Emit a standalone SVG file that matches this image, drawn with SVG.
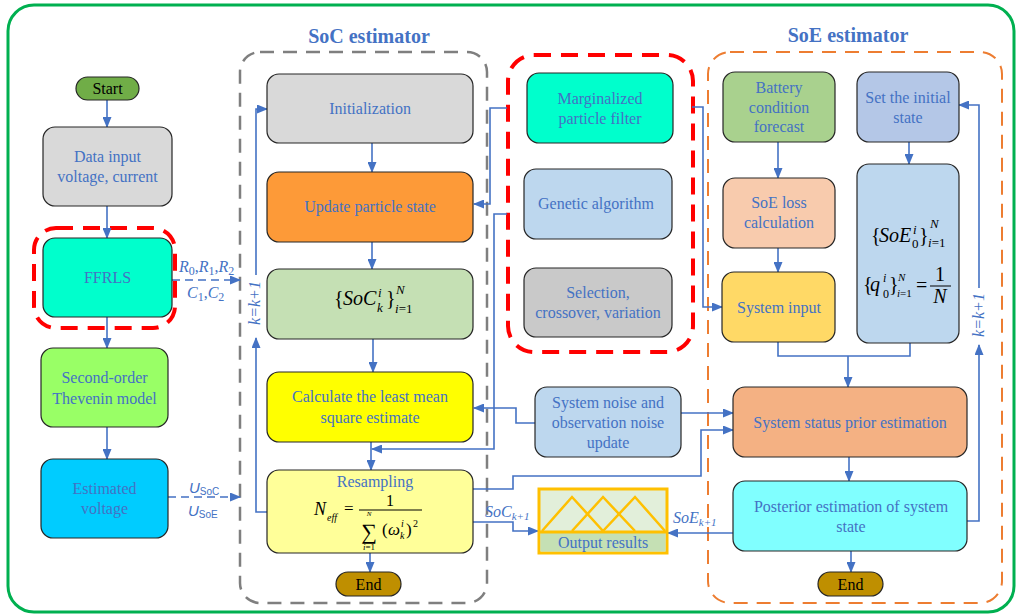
<svg xmlns="http://www.w3.org/2000/svg" width="1016" height="615" viewBox="0 0 1016 615">
<defs>
<marker id="ah" markerUnits="userSpaceOnUse" markerWidth="11" markerHeight="9" refX="10" refY="4.5" orient="auto">
<path d="M0,0 L11,4.5 L0,9 z" fill="#4472c4"/>
</marker>
<style>
.box{stroke:#262626;stroke-width:1.2}
.t{font-family:"Liberation Serif","Times New Roman",serif;font-size:16px;fill:#4472c4;text-anchor:middle}
.k{font-family:"Liberation Serif","Times New Roman",serif;font-size:16px;fill:#000;text-anchor:middle}
.m{font-family:"Liberation Serif","Times New Roman",serif;fill:#000}
.ti{font-family:"Liberation Serif","Times New Roman",serif;font-size:20px;font-weight:bold;fill:#4472c4;text-anchor:middle}
.lbl{font-family:"Liberation Serif","Times New Roman",serif;font-size:16px;fill:#4472c4;font-style:italic}
.c{fill:none;stroke:#4472c4;stroke-width:1.6}
.c path{marker-end:url(#ah)}
.d{stroke-dasharray:8 5}
</style>
</defs>
<rect x="0" y="0" width="1016" height="615" fill="#fff"/>
<rect x="8" y="5" width="1006" height="607" rx="26" fill="none" stroke="#00b050" stroke-width="3"/>

<!-- containers -->
<g id="soc-estimator">
<rect x="240" y="52" width="247" height="551" rx="20" fill="none" stroke="#7f7f7f" stroke-width="2.5" stroke-dasharray="14 9"/>
<text class="ti" x="369" y="43">SoC estimator</text>
</g>
<g id="soe-estimator">
<rect x="708" y="52" width="294" height="551" rx="22" fill="none" stroke="#ed7d31" stroke-width="2" stroke-dasharray="14 9"/>
<text class="ti" x="848" y="42">SoE estimator</text>
</g>
<g id="mpf-group">
<rect x="508" y="55" width="185" height="297" rx="26" fill="none" stroke="#ff0000" stroke-width="4" stroke-dasharray="17 10"/>
</g>
<g id="ffrls-group">
<rect x="34" y="228" width="141" height="100" rx="22" fill="none" stroke="#ff0000" stroke-width="4" stroke-dasharray="17 10"/>
</g>

<!-- connectors -->
<g id="connectors" class="c">
<path d="M107,100 V127"/>
<path d="M107,206 V238"/>
<path d="M107,317 V348"/>
<path d="M107,427 V459"/>
<path class="d" d="M172,280 H240"/>
<path class="d" d="M168,497 H240"/>
<path d="M372,143 V172"/>
<path d="M372,242 V269"/>
<path d="M373,339 V372"/>
<path d="M371,442 V470"/>
<path d="M507,108 H490 V204 H474"/>
<path d="M507,214 H494 V449 H372"/>
<path d="M535,423 H516 V408 H474"/>
<path d="M681,413 H733"/>
<path d="M473,489 H513 V476 H701 V430 H733"/>
<path d="M473,522 H513 V531 H538"/>
<path d="M734,533 H668"/>
<path d="M692,107 H703 V307 H722"/>
<path d="M778,142 V178"/>
<path d="M778,248 V272"/>
<path d="M909,142 V164"/>
<polyline points="778,342 778,356 910,356 910,343"/>
<path d="M848,356 V387"/>
<path d="M849,457 V481"/>
<path d="M851,551 V572"/>
<path d="M370,553 V572"/>
<path d="M967,521 H979 V345"/>
<path d="M979,288 V105 H959"/>
<path d="M267,512 H256 V338"/>
<path d="M256,275 V109 H267"/>
</g>

<!-- connector labels -->
<g id="connector-labels">
<text class="lbl" x="179" y="272" font-size="17">R<tspan font-style="normal" font-size="12" dy="3">0</tspan><tspan font-style="normal" dy="-3">,</tspan>R<tspan font-style="normal" font-size="12" dy="3">1</tspan><tspan font-style="normal" dy="-3">,</tspan>R<tspan font-style="normal" font-size="12" dy="3">2</tspan></text>
<text class="lbl" x="187" y="298" font-size="17">C<tspan font-style="normal" font-size="12" dy="3">1</tspan><tspan font-style="normal" dy="-3">,</tspan>C<tspan font-style="normal" font-size="12" dy="3">2</tspan></text>
<text x="189" y="493" font-family="'Liberation Sans',Arial,sans-serif" font-size="15" fill="#4472c4" font-style="italic">U<tspan font-style="normal" font-size="10" dy="2">SoC</tspan></text>
<text x="188" y="516" font-family="'Liberation Sans',Arial,sans-serif" font-size="15" fill="#4472c4" font-style="italic">U<tspan font-style="normal" font-size="10" dy="2">SoE</tspan></text>
<text class="lbl" x="260" y="303" text-anchor="middle" transform="rotate(-90 260 303)">k=k+1</text>
<text class="lbl" x="984" y="315" text-anchor="middle" transform="rotate(-90 984 315)">k=k+1</text>
<text class="lbl" x="485" y="517">SoC<tspan font-size="11" dy="3">k+1</tspan></text>
<text class="lbl" x="673" y="523">SoE<tspan font-size="11" dy="3">k+1</tspan></text>
</g>

<!-- left column -->
<g id="start">
<rect x="76" y="77" width="63" height="23" rx="11.5" fill="#70ad47" class="box"/>
<text class="k" x="107.5" y="94">Start</text>
</g>
<g id="data-input">
<rect x="43" y="127" width="129" height="79" rx="12" fill="#d9d9d9" class="box"/>
<text class="t" x="107.5" y="162">Data input</text>
<text class="t" x="107.5" y="182">voltage, current</text>
</g>
<g id="ffrls">
<rect x="43" y="238" width="129" height="79" rx="12" fill="#00ffcc" class="box"/>
<text class="t" x="107.5" y="283">FFRLS</text>
</g>
<g id="thevenin">
<rect x="41" y="348" width="127" height="79" rx="12" fill="#99ff66" class="box"/>
<text class="t" x="104.5" y="383">Second-order</text>
<text class="t" x="104.5" y="404">Thevenin model</text>
</g>
<g id="estimated-voltage">
<rect x="41" y="459" width="127" height="79" rx="12" fill="#00ccff" class="box"/>
<text class="t" x="104.5" y="494">Estimated</text>
<text class="t" x="104.5" y="514">voltage</text>
</g>

<!-- SoC column -->
<g id="initialization">
<rect x="267" y="74" width="206" height="69" rx="12" fill="#d9d9d9" class="box"/>
<text class="t" x="370" y="114">Initialization</text>
</g>
<g id="update-particle">
<rect x="267" y="172" width="206" height="70" rx="12" fill="#fd9a38" class="box"/>
<text class="t" x="370" y="212">Update particle state</text>
</g>
<g id="soc-particles">
<rect x="267" y="269" width="206" height="70" rx="12" fill="#c5e0b4" class="box"/>
<text class="m" x="334" y="305" font-size="20">{</text>
<text class="m" x="343" y="305" font-size="20" font-style="italic">SoC</text>
<text class="m" x="378" y="297" font-size="13" font-style="italic">i</text>
<text class="m" x="377" y="312" font-size="13" font-style="italic">k</text>
<text class="m" x="386" y="305" font-size="20">}</text>
<text class="m" x="396" y="294" font-size="13" font-style="italic">N</text>
<text class="m" x="395" y="313" font-size="13"><tspan font-style="italic">i</tspan>=1</text>
</g>
<g id="lmse">
<rect x="267" y="372" width="206" height="70" rx="12" fill="#ffff00" class="box"/>
<text class="t" x="370" y="402">Calculate the least mean</text>
<text class="t" x="370" y="423">square estimate</text>
</g>
<g id="resampling">
<rect x="267" y="470" width="206" height="83" rx="12" fill="#ffff99" class="box"/>
<text class="t" x="375" y="487">Resampling</text>
<text class="m" x="314" y="515" font-size="18" font-style="italic">N</text>
<text class="m" x="327" y="521" font-size="10" font-style="italic">eff</text>
<text class="m" x="344" y="514" font-size="17">=</text>
<line x1="359" y1="510" x2="422" y2="510" stroke="#000" stroke-width="1"/>
<text class="m" x="390" y="506" font-size="16" text-anchor="middle">1</text>
<text class="m" x="369" y="516" font-size="7" font-style="italic" text-anchor="middle">N</text>
<text class="m" x="369" y="539" font-size="22" text-anchor="middle">∑</text>
<text class="m" x="369" y="550" font-size="9" text-anchor="middle"><tspan font-style="italic">i</tspan>=1</text>
<text class="m" x="382" y="535" font-size="17">(</text>
<text class="m" x="388" y="535" font-size="17" font-style="italic">ω</text>
<text class="m" x="401" y="527" font-size="10" font-style="italic">i</text>
<text class="m" x="400" y="539" font-size="10" font-style="italic">k</text>
<text class="m" x="406" y="535" font-size="17">)</text>
<text class="m" x="413" y="527" font-size="10">2</text>
</g>
<g id="end-soc">
<rect x="336" y="572" width="65" height="24" rx="12" fill="#bf8f00" class="box"/>
<text class="k" x="368.5" y="590">End</text>
</g>

<!-- MPF column -->
<g id="mpf">
<rect x="527" y="73" width="146" height="70" rx="12" fill="#00ffcc" class="box"/>
<text class="t" x="600" y="104">Marginalized</text>
<text class="t" x="600" y="124">particle filter</text>
</g>
<g id="genetic">
<rect x="524" y="169" width="148" height="70" rx="12" fill="#bdd7ee" class="box"/>
<text class="t" x="596" y="209">Genetic algorithm</text>
</g>
<g id="selection">
<rect x="524" y="268" width="148" height="69" rx="12" fill="#c9c9c9" class="box"/>
<text class="t" x="598" y="298">Selection,</text>
<text class="t" x="598" y="318">crossover, variation</text>
</g>
<g id="noise-update">
<rect x="535" y="387" width="146" height="70" rx="12" fill="#bdd7ee" class="box"/>
<text class="t" x="608" y="408">System noise and</text>
<text class="t" x="608" y="428">observation noise</text>
<text class="t" x="608" y="448">update</text>
</g>
<g id="output-results">
<rect x="539" y="489" width="128" height="64" fill="#e2efda" stroke="#ffc000" stroke-width="3"/>
<rect x="540.5" y="532" width="125" height="19.5" fill="#c5e0b4"/>
<line x1="539" y1="532" x2="667" y2="532" stroke="#ffc000" stroke-width="3"/>
<polyline points="542,531 572,497 603,531" fill="none" stroke="#ffc000" stroke-width="2.5"/>
<polyline points="572,531 603,497 635,531" fill="none" stroke="#ffc000" stroke-width="2.5"/>
<polyline points="603,531 635,497 665,531" fill="none" stroke="#ffc000" stroke-width="2.5"/>
<text class="t" x="603" y="548">Output results</text>
</g>

<!-- SoE column -->
<g id="battery-forecast">
<rect x="723" y="72" width="112" height="70" rx="12" fill="#a9d18e" class="box"/>
<text class="t" x="779" y="93">Battery</text>
<text class="t" x="779" y="113">condition</text>
<text class="t" x="779" y="132">forecast</text>
</g>
<g id="soe-loss">
<rect x="723" y="178" width="112" height="70" rx="12" fill="#f8cbad" class="box"/>
<text class="t" x="779" y="208">SoE loss</text>
<text class="t" x="779" y="228">calculation</text>
</g>
<g id="system-input">
<rect x="722" y="272" width="113" height="70" rx="12" fill="#ffd966" class="box"/>
<text class="t" x="779" y="313">System input</text>
</g>
<g id="set-initial">
<rect x="857" y="72" width="102" height="70" rx="12" fill="#b4c7e7" class="box"/>
<text class="t" x="908" y="103">Set the initial</text>
<text class="t" x="908" y="123">state</text>
</g>
<g id="soe-init-particles">
<rect x="857" y="164" width="102" height="179" rx="12" fill="#bdd7ee" class="box"/>
<text class="m" x="871" y="242" font-size="20">{</text>
<text class="m" x="879" y="242" font-size="20" font-style="italic">SoE</text>
<text class="m" x="913" y="234" font-size="13" font-style="italic">i</text>
<text class="m" x="912" y="248" font-size="13">0</text>
<text class="m" x="919" y="242" font-size="20">}</text>
<text class="m" x="930" y="228" font-size="13" font-style="italic">N</text>
<text class="m" x="928" y="247" font-size="13"><tspan font-style="italic">i</tspan>=1</text>
<text class="m" x="863" y="291" font-size="20">{</text>
<text class="m" x="870" y="291" font-size="20" font-style="italic">q</text>
<text class="m" x="883" y="282" font-size="12" font-style="italic">i</text>
<text class="m" x="883" y="298" font-size="12">0</text>
<text class="m" x="889" y="291" font-size="20">}</text>
<text class="m" x="898" y="281" font-size="11" font-style="italic">N</text>
<text class="m" x="897" y="297" font-size="11"><tspan font-style="italic">i</tspan>=1</text>
<text class="m" x="916" y="292" font-size="20">=</text>
<text class="m" x="940" y="281" font-size="20" text-anchor="middle">1</text>
<line x1="930" y1="286" x2="951" y2="286" stroke="#000" stroke-width="1"/>
<text class="m" x="940" y="303" font-size="20" font-style="italic" text-anchor="middle">N</text>
</g>
<g id="prior-estimation">
<rect x="733" y="387" width="234" height="70" rx="12" fill="#f4b183" class="box"/>
<text class="t" x="850" y="428">System status prior estimation</text>
</g>
<g id="posterior-estimation">
<rect x="733" y="481" width="234" height="70" rx="12" fill="#80ffff" class="box"/>
<text class="t" x="851" y="512">Posterior estimation of system</text>
<text class="t" x="851" y="532">state</text>
</g>
<g id="end-soe">
<rect x="818" y="572" width="65" height="24" rx="12" fill="#bf8f00" class="box"/>
<text class="k" x="850.5" y="590">End</text>
</g>
</svg>
